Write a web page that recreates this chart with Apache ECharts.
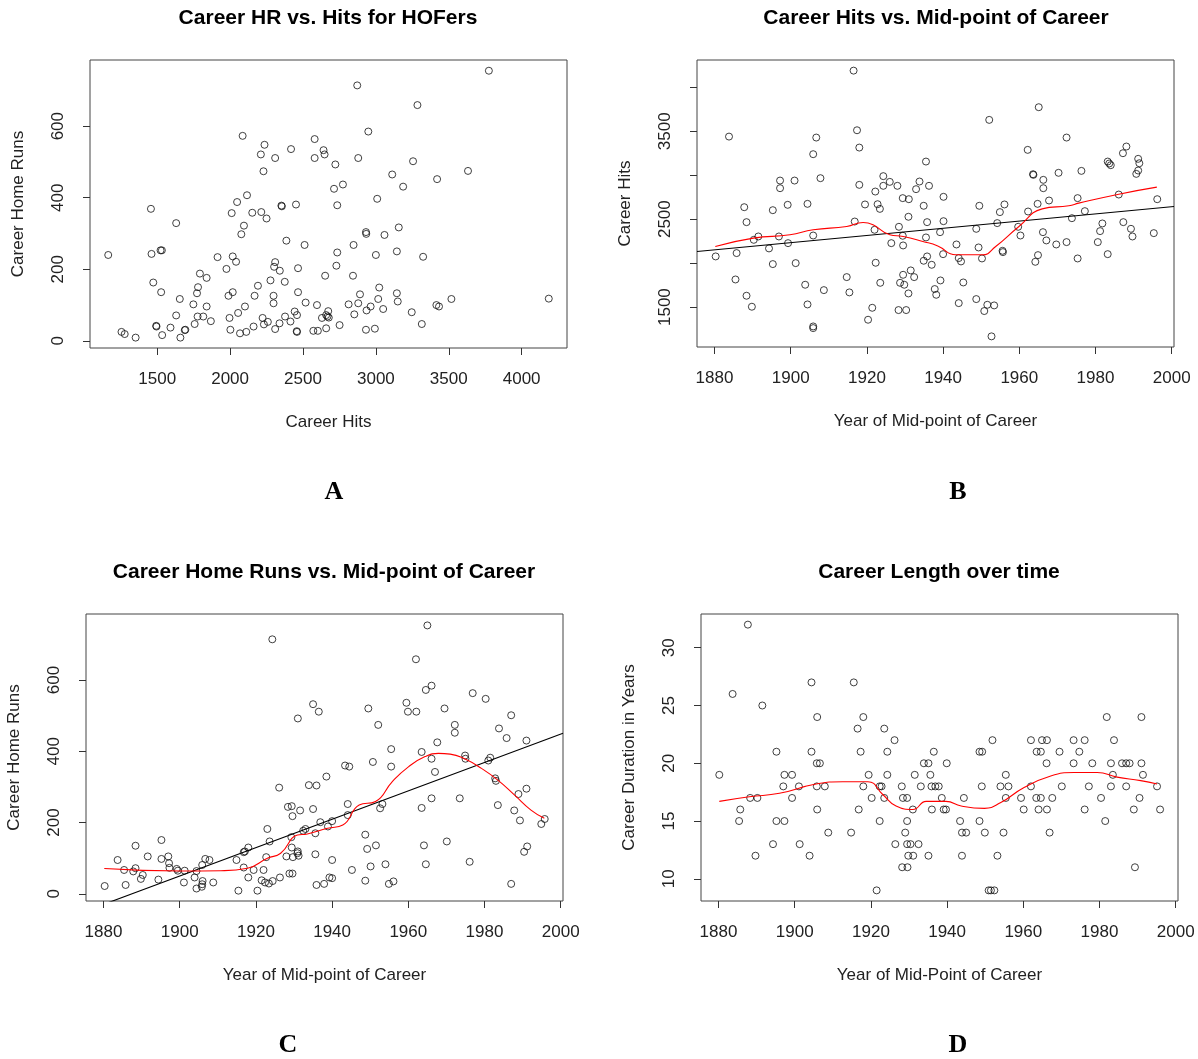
<!DOCTYPE html>
<html>
<head>
<meta charset="utf-8">
<script src="https://cdn.jsdelivr.net/npm/echarts@6/dist/echarts.min.js"></script>
<style>
  html, body { margin: 0; background: #fff; }
  #chart { width: 1198px; height: 1059px; }
</style>
</head>
<body>
<div id="chart"></div>
<script>
// A: career hits vs career home runs
var hrVsHits = [
  [1164,240],[1255,25],[1277,19],[1352,9],[1457,369],[1461,243],[1523,253],[1532,253],[1473,163],[1527,136],
  [1493,42],[1495,40],[1534,16],[1630,329],[1591,37],[1630,71],[1655,117],[1659,9],[1689,30],[1693,31],
  [1748,102],[1757,47],[1773,133],[1780,150],[1793,188],[1777,68],[1816,68],[1839,176],[1839,96],[1868,55],
  [1914,234],[1975,201],[1989,126],[2018,136],[1996,64],[2002,31],[2011,357],[2048,388],[2018,236],[2041,221],
  [2055,78],[2068,21],[2086,573],[2116,407],[2095,322],[2077,298],[2102,96],[2111,25],[2152,358],[2168,126],
  [2161,40],[2191,154],[2211,521],[2236,548],[2229,474],[2214,360],[2250,342],[2223,64],[2232,46],[2259,53],
  [2277,169],[2298,126],[2298,105],[2309,511],[2309,220],[2302,207],[2341,196],[2309,33],[2339,49],[2352,378],
  [2355,376],[2375,165],[2377,68],[2386,280],[2414,54],[2418,536],[2443,82],[2452,381],[2459,72],[2466,203],
  [2466,136],[2457,27],[2459,25],[2511,268],[2518,107],[2580,564],[2580,511],[2571,28],[2596,100],[2602,28],
  [2641,533],[2648,521],[2652,182],[2630,64],[2659,72],[2668,68],[2673,83],[2677,65],[2659,35],[2722,493],
  [2713,425],[2774,437],[2735,379],[2735,247],[2729,210],[2751,44],[2872,714],[2948,585],[2879,511],[2847,268],
  [2843,182],[3009,397],[2932,304],[2934,299],[3059,296],[3000,240],[2891,130],[2813,102],[2879,105],[2852,74],
  [2936,85],[2964,96],[3023,149],[3016,117],[3050,89],[2932,31],[2993,34],[3112,465],[3187,431],[3157,317],
  [3144,250],[3144,133],[3150,110],[3285,659],[3255,502],[3324,235],[3246,80],[3315,47],[3420,452],[3415,100],
  [3433,96],[3518,117],[3632,475],[3775,755],[4186,118]
];

// B: mid-point year vs career hits
var hitsVsYear = [
  [1880.3,2076],[1883.8,3439],[1885.5,1814],[1885.8,2114],[1887.8,2636],[1888.4,2466],[1888.4,1629],[1889.8,1504],
  [1890.3,2265],[1891.5,2303],[1894.3,2167],[1895.3,2602],[1895.3,1989],[1897.2,2939],[1897.2,2852],[1896.9,2303],
  [1899.2,2663],[1899.3,2227],[1901,2939],[1901.3,2000],[1903.8,1754],[1904.4,2674],[1904.4,1530],[1905.9,3239],
  [1906.7,3428],[1905.9,2314],[1905.9,1280],[1905.9,1261],[1907.8,2966],[1908.7,1693],[1914.7,1841],[1915.4,1667],
  [1916.5,4189],[1917.4,3511],[1918,3314],[1916.8,2473],[1918,2890],[1919.5,2667],[1920.3,1356],[1921.4,1492],
  [1922.2,2814],[1922,2379],[1922.3,2004],[1922.8,2670],[1923.4,2617],[1923.5,1776],[1924.3,2989],[1924.3,2879],
  [1926,2924],[1926.4,2227],[1928,2879],[1928.4,2413],[1928.3,1466],[1929.4,2739],[1929.4,2311],[1929.5,2201],
  [1929.5,1867],[1928.7,1776],[1929.8,1754],[1930.3,1466],[1931,2727],[1930.9,2527],[1930.9,1655],[1931.5,1917],
  [1932.4,1841],[1932.9,2841],[1933.8,2928],[1935.5,3155],[1934.9,2652],[1935.8,2466],[1935.5,2292],[1935.8,2076],
  [1934.9,2027],[1937,1981],[1936.3,2879],[1937.8,1705],[1938.2,1640],[1939.3,1803],[1939.2,2352],[1940.1,2754],
  [1940.1,2477],[1940,2102],[1943.5,2212],[1944.1,2057],[1944.7,2019],[1945.3,1780],[1944.1,1545],[1948.7,2390],
  [1949.5,2652],[1949.3,2178],[1950.2,2053],[1948.7,1591],[1951.6,1526],[1950.8,1455],[1953.4,1519],[1952.7,1167],
  [1952.1,3629],[1954.2,2455],[1954.9,2580],[1956.1,2667],[1955.6,2140],[1955.7,2125],[1959.7,2413],[1960.3,2314],
  [1962.2,3288],[1962.3,2587],[1963.6,3011],[1963.7,3004],[1965.1,3773],[1966.3,2947],[1966.3,2852],[1964.8,2674],
  [1967.8,2712],[1966.2,2352],[1967.1,2258],[1964.9,2091],[1964.2,2015],[1969.7,2212],[1970.3,3027],[1972.4,3428],
  [1972.4,2239],[1973.8,2511],[1975.3,2739],[1976.3,3049],[1977.2,2591],[1975.3,2053],[1980.6,2239],[1981.2,2364],
  [1981.8,2451],[1983.2,2102],[1983.2,3155],[1983.6,3133],[1984,3114],[1986.1,2780],[1987.2,3250],[1988.1,3326],
  [1987.3,2466],[1989.3,2390],[1989.7,2303],[1991.2,3186],[1991.5,3136],[1991.2,3053],[1990.7,3015],[1995.3,2341],
  [1996.2,2727]
];
var hitsSmooth = [
  [1880.2,2189],[1890.2,2284],[1899.8,2322],[1905.9,2379],[1914.7,2417],[1919,2462],[1921.6,2436],[1926,2322],
  [1929.5,2303],[1934.7,2246],[1938.6,2195],[1943.3,2095],[1950.3,2095],[1953.8,2189],[1959.9,2417],[1966,2617],
  [1973,2652],[1975.6,2682],[1986.1,2784],[1996.1,2864]
];
var hitsFit = [-5519.4, 4.08];   // intercept, slope

// C: mid-point year vs career home runs
var hrVsYear = [
  [1880.3,22],[1883.7,95],[1885.8,25],[1885.4,67],[1887.8,63],[1888.4,135],[1888.4,72],[1890.3,53],[1889.8,42],
  [1891.6,105],[1894.4,40],[1895.2,151],[1895.2,98],[1897,105],[1897.2,86],[1897.3,73],[1899.2,70],[1899.5,65],
  [1901.3,65],[1901.1,32],[1903.9,46],[1904.4,64],[1904.4,15],[1905.9,81],[1906,36],[1905.9,27],[1905.8,20],
  [1906.7,98],[1907.8,95],[1908.8,32],[1914.9,95],[1915.4,9],[1916.8,117],[1917.1,119],[1918,130],[1916.8,74],
  [1918,46],[1919.4,67],[1920.4,9],[1921.5,38],[1922,67],[1922.4,32],[1922.7,103],[1923,182],[1923.4,29],
  [1923.6,147],[1924.4,36],[1924.3,714],[1926.1,298],[1926.3,46],[1928,105],[1928.4,244],[1929.4,246],[1929.6,218],
  [1931.6,234],[1931,492],[1929.3,159],[1929.4,130],[1929.7,103],[1930.9,114],[1931,119],[1931.2,107],[1928.8,57],
  [1929.6,57],[1932.4,177],[1933,182],[1935,532],[1936.5,511],[1935,238],[1933.9,305],[1935.9,304],[1935.6,170],
  [1935.6,111],[1936.9,201],[1935.9,25],[1937.9,28],[1938.5,329],[1938.9,189],[1940,95],[1939.3,46],[1940,204],
  [1940,44],[1943.4,360],[1944.5,357],[1944.1,252],[1944.1,221],[1945.2,67],[1948.7,166],[1949.2,126],[1951.5,136],
  [1950.1,77],[1948.7,37],[1949.5,520],[1952.1,474],[1950.7,370],[1955.5,406],[1955.5,357],[1953.2,252],[1952.6,240],
  [1954,83],[1954.9,28],[1956.1,35],[1959.5,536],[1959.9,511],[1962.1,511],[1962,658],[1964.6,572],[1966.1,584],
  [1965,753],[1963.5,398],[1966.1,379],[1967,342],[1967.6,425],[1969.5,520],[1963.5,241],[1966.1,268],[1964.1,136],
  [1964.6,83],[1970.1,147],[1972.2,474],[1972.2,452],[1973.5,268],[1974.9,388],[1975,379],[1976.9,563],[1976.1,90],
  [1980.3,547],[1981,374],[1981.5,382],[1982.8,324],[1983,317],[1983.8,464],[1985.8,437],[1983.5,249],[1987,501],
  [1987,28],[1987.8,234],[1988.9,280],[1989.3,206],[1991,295],[1991,430],[1991.2,133],[1990.4,118],[1994.9,196],
  [1995.8,210]
];
var hrSmooth = [
  [1880.2,71],[1900.3,64],[1910.8,65],[1917.8,72],[1923,100],[1926.5,114],[1930.9,165],[1933.5,168],[1938.8,184],
  [1942.8,193],[1947.1,249],[1951.4,259],[1955.8,315],[1960.1,357],[1964.4,385],[1967.9,394],[1971,392],
  [1974.9,378],[1979.2,352],[1983.5,319],[1987.9,277],[1992.2,235],[1995.7,212]
];
var hrFit = [-7511.95, 3.98];

// D: mid-point year vs career length
var lengthVsYear = [
  [1880.2,19],[1883.7,26],[1885.7,16],[1885.4,15],[1887.7,32],[1888.3,17],[1890.2,17],[1889.7,12],[1891.5,25],
  [1895.2,21],[1894.3,13],[1895.2,15],[1897.3,15],[1897,18],[1897.3,19],[1899.3,19],[1899.3,17],[1901.1,18],
  [1901.3,13],[1903.9,12],[1904.4,27],[1904.4,21],[1905.9,24],[1905.8,20],[1906.6,20],[1905.8,18],[1905.9,16],
  [1907.9,18],[1908.8,14],[1914.8,14],[1915.5,27],[1916.5,23],[1917.3,21],[1918,24],[1918,18],[1916.8,16],
  [1919.4,19],[1920.2,17],[1921.5,9],[1922.3,18],[1922.8,18],[1923.5,23],[1924.3,21],[1924.3,19],[1923.5,17],
  [1922.3,15],[1926.2,22],[1928.1,18],[1928.4,17],[1929.5,17],[1931,16],[1929.5,15],[1929,14],[1926.4,13],
  [1929.5,13],[1930.4,13],[1932.5,13],[1929.8,12],[1931.1,12],[1935.1,12],[1928.2,11],[1929.6,11],[1931.5,19],
  [1933.1,18],[1933.9,20],[1935.1,20],[1936.5,21],[1935.6,19],[1935.9,18],[1936.9,18],[1937.8,18],[1938.6,17],
  [1936,16],[1939.1,16],[1939.7,16],[1939.9,20],[1943.4,15],[1943.9,14],[1945,14],[1943.9,12],[1944.4,17],
  [1948.5,15],[1948.5,21],[1949.2,21],[1949.1,18],[1949.9,14],[1951.9,22],[1950.9,9],[1951.5,9],[1952.4,9],
  [1953.2,12],[1954,18],[1956.1,18],[1955.4,19],[1955.4,17],[1954.8,14],[1959.4,17],[1960.1,16],[1962,18],
  [1962,22],[1963.5,21],[1964.6,21],[1964.9,22],[1966.2,22],[1966.1,20],[1963.4,17],[1964.6,17],[1967.6,17],
  [1964,16],[1966.2,16],[1966.9,14],[1969.5,21],[1970.1,18],[1973.2,22],[1973.2,20],[1974.7,21],[1976.1,22],
  [1976.1,16],[1977.2,18],[1978.1,20],[1981.9,24],[1980.4,17],[1981.5,15],[1983,20],[1983.5,19],[1983.8,22],
  [1983,18],[1985.9,20],[1987,20],[1987.9,20],[1987,18],[1989,16],[1989.3,11],[1990.5,17],[1991,24],[1991,20],
  [1991.4,19],[1995.1,18],[1995.9,16]
];
var lengthSmooth = [
  [1880.2,16.7],[1888.1,17.1],[1896,17.4],[1905.6,18.2],[1912.6,18.4],[1919.2,18.4],[1923.1,17.3],[1926.6,16.3],
  [1931,16],[1934.5,16.7],[1939.7,16.7],[1943.7,16.3],[1949.8,16.1],[1954.1,16.6],[1960.2,17.9],[1967.2,18.9],
  [1973.3,19.2],[1979.4,19.2],[1984.6,18.8],[1990.8,18.5],[1995.1,18.2]
];

var hitsTicks = [1500, 2000, 2500, 3000, 3500, 4000];
var hrTicks = [0, 200, 400, 600];
var yearTicks = [1880, 1900, 1920, 1940, 1960, 1980, 2000];
var careerHitsTicks = [1500, 2000, 2500, 3000, 3500, 4000];
var careerHitsLabels = [1500, 2500, 3500];
var durationTicks = [10, 15, 20, 25, 30];

var FONT = '"Liberation Sans", Arial, sans-serif';
var yearMin = 1875.4, yearMax = 2000.6;

function plain(v) { return String(v); }

function xAxis(idx, min, max, ticks, name) {
  return {
    type: 'value', gridIndex: idx, min: min, max: max,
    name: name, nameLocation: 'middle', nameGap: 66,
    nameTextStyle: { fontSize: 17, color: '#222', fontFamily: FONT },
    axisLine: { show: false, onZero: false }, splitLine: { show: false },
    axisTick: { length: 7, customValues: ticks, lineStyle: { color: '#333' } },
    axisLabel: { customValues: ticks, formatter: plain, margin: 23, fontSize: 17, color: '#222', fontFamily: FONT }
  };
}
function yAxis(idx, min, max, ticks, labels, name) {
  return {
    type: 'value', gridIndex: idx, min: min, max: max,
    name: name, nameLocation: 'middle', nameGap: 63,
    nameTextStyle: { fontSize: 17, color: '#222', fontFamily: FONT },
    axisLine: { show: false, onZero: false }, splitLine: { show: false },
    axisTick: { length: 7, customValues: ticks, lineStyle: { color: '#333' } },
    axisLabel: { customValues: labels, formatter: plain, rotate: 90, margin: 23, fontSize: 17, color: '#222', fontFamily: FONT }
  };
}
function dots(idx, data) {
  return {
    type: 'scatter', xAxisIndex: idx, yAxisIndex: idx, data: data, symbolSize: 7,
    itemStyle: { color: 'rgba(0,0,0,0)', borderColor: '#111', borderWidth: 1 }, silent: true
  };
}
function curve(idx, data, color, smooth) {
  return {
    type: 'line', xAxisIndex: idx, yAxisIndex: idx, data: data, smooth: smooth, showSymbol: false,
    lineStyle: { color: color, width: 1.1 }, silent: true, z: 3
  };
}
function fitLine(fit) {
  return [[yearMin, fit[0] + fit[1] * yearMin], [yearMax, fit[0] + fit[1] * yearMax]];
}
function text(x, y, str, font) {
  return { type: 'text', x: x, y: y, style: { text: str, font: font, fill: '#000', textAlign: 'center', textVerticalAlign: 'middle' } };
}

var chart = echarts.init(document.getElementById('chart'));
var titleFont = 'bold 21px ' + FONT;
var letterFont = 'bold 26px "Liberation Serif", "Times New Roman", serif';
var gridStyle = { show: true, borderColor: '#444', borderWidth: 1, backgroundColor: 'transparent' };

chart.setOption({
  animation: false,
  grid: [
    Object.assign({ left: 90, top: 60, width: 477, height: 288 }, gridStyle),
    Object.assign({ left: 697, top: 60, width: 477, height: 287 }, gridStyle),
    Object.assign({ left: 86, top: 614, width: 477, height: 287 }, gridStyle),
    Object.assign({ left: 701, top: 614, width: 477, height: 287 }, gridStyle)
  ],
  xAxis: [
    xAxis(0, 1039, 4311, hitsTicks, 'Career Hits'),
    xAxis(1, yearMin, yearMax, yearTicks, 'Year of Mid-point of Career'),
    xAxis(2, yearMin, yearMax, yearTicks, 'Year of Mid-point of Career'),
    xAxis(3, yearMin, yearMax, yearTicks, 'Year of Mid-Point of Career')
  ],
  yAxis: [
    yAxis(0, -20, 785, hrTicks, hrTicks, 'Career Home Runs'),
    yAxis(1, 1046, 4310, careerHitsTicks, careerHitsLabels, 'Career Hits'),
    yAxis(2, -20, 785, hrTicks, hrTicks, 'Career Home Runs'),
    yAxis(3, 8.08, 32.92, durationTicks, durationTicks, 'Career Duration in Years')
  ],
  series: [
    dots(0, hrVsHits),
    dots(1, hitsVsYear),
    curve(1, fitLine(hitsFit), '#000', false),
    curve(1, hitsSmooth, '#ff0000', true),
    dots(2, hrVsYear),
    curve(2, fitLine(hrFit), '#000', false),
    curve(2, hrSmooth, '#ff0000', true),
    dots(3, lengthVsYear),
    curve(3, lengthSmooth, '#ff0000', true)
  ],
  graphic: [
    text(328, 18, 'Career HR vs. Hits for HOFers', titleFont),
    text(936, 18, 'Career Hits vs. Mid-point of Career', titleFont),
    text(324, 572, 'Career Home Runs vs. Mid-point of Career', titleFont),
    text(939, 572, 'Career Length over time', titleFont),
    text(334, 492, 'A', letterFont),
    text(958, 492, 'B', letterFont),
    text(288, 1045, 'C', letterFont),
    text(958, 1045, 'D', letterFont)
  ]
});
</script>
</body>
</html>
